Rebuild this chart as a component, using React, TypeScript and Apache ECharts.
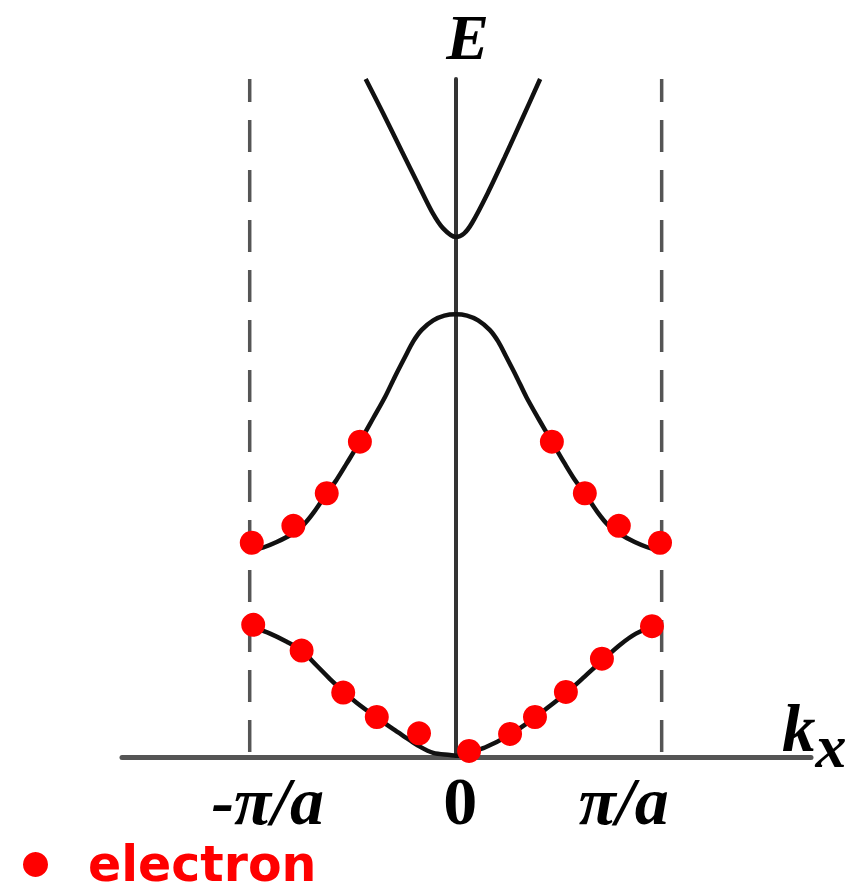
import React, { useEffect, useRef } from "react";
import * as echarts from "echarts";

// Wave vector k in units of π/a, energy E in arbitrary units.
const kTicks = [-1, 0, 1];
const kTickLabels = ["-π/a", "0", "π/a"];
const zoneEdges = [-1, 1];

// Upper (conduction-like) band
const band3: [number, number][] = [
  [-0.437, 10.0], [-0.353, 9.5], [-0.261, 8.93], [-0.178, 8.42], [-0.115, 8.04],
  [-0.062, 7.8], [0, 7.67], [0.04, 7.72], [0.08, 7.88], [0.156, 8.32],
  [0.237, 8.84], [0.318, 9.38], [0.41, 10.0],
];

// Middle band with its maximum at k = 0
const band2: [number, number][] = [
  [-1.0, 3.03], [-0.934, 3.09], [-0.869, 3.17], [-0.788, 3.3], [-0.74, 3.42],
  [-0.691, 3.6], [-0.626, 3.89], [-0.578, 4.09], [-0.529, 4.33], [-0.465, 4.65],
  [-0.4, 5.0], [-0.343, 5.31], [-0.295, 5.61], [-0.246, 5.9], [-0.206, 6.13],
  [-0.165, 6.3], [-0.109, 6.44], [-0.055, 6.51], [0, 6.53],
  [0.055, 6.51], [0.109, 6.44], [0.165, 6.3], [0.206, 6.13], [0.246, 5.9],
  [0.295, 5.61], [0.343, 5.31], [0.4, 5.0], [0.467, 4.65], [0.529, 4.33],
  [0.578, 4.09], [0.627, 3.89], [0.691, 3.6], [0.74, 3.42], [0.792, 3.3],
  [0.869, 3.17], [0.934, 3.09], [1.0, 3.03],
];

// Lowest band with its minimum at k = 0
const band1: [number, number][] = [
  [-0.995, 1.93], [-0.901, 1.82], [-0.82, 1.7], [-0.748, 1.57], [-0.675, 1.35],
  [-0.61, 1.15], [-0.546, 0.97], [-0.481, 0.8], [-0.383, 0.58], [-0.303, 0.41],
  [-0.238, 0.28], [-0.178, 0.16], [-0.109, 0.06], [-0.028, 0.03], [0, 0.02],
  [0.02, 0.02], [0.065, 0.07], [0.142, 0.14], [0.264, 0.33], [0.385, 0.58],
  [0.46, 0.76], [0.535, 0.94], [0.62, 1.17], [0.71, 1.42], [0.8, 1.66],
  [0.875, 1.82], [0.953, 1.92], [1.0, 1.94],
];

// Occupied electron states
const electrons: [number, number][] = [
  [-0.99, 3.16], [-0.788, 3.41], [-0.626, 3.89], [-0.465, 4.65],
  [0.467, 4.65], [0.627, 3.89], [0.792, 3.41], [0.992, 3.16],
  [-0.983, 1.95], [-0.748, 1.57], [-0.546, 0.95], [-0.383, 0.59], [-0.178, 0.35],
  [0.065, 0.09], [0.264, 0.34], [0.385, 0.59], [0.535, 0.96], [0.71, 1.45],
  [0.953, 1.93],
];

const serif = "'Liberation Serif', 'Times New Roman', serif";

export default function App() {
  const ref = useRef<HTMLDivElement>(null);

  useEffect(() => {
    if (!ref.current) return;
    const chart = echarts.init(ref.current, null, { renderer: "svg" });

    const bandLine = (name: string, data: [number, number][]) => ({
      name,
      type: "line",
      data,
      smooth: 0.3,
      symbol: "none",
      clip: true,
      z: 3,
      lineStyle: { color: "#111", width: 4.5 },
    });

    const edgeLine = (k: number) => ({
      name: "edge" + k,
      type: "line",
      data: [[k, 10], [k, 0]],
      symbol: "none",
      z: 2,
      lineStyle: { color: "#555", width: 3.5, type: [32, 18], dashOffset: 9 },
    });

    chart.setOption({
      animation: false,
      backgroundColor: "#fff",
      grid: { left: 122, right: 43, top: 79, bottom: 136, containLabel: false },
      xAxis: {
        type: "value",
        min: -1.62,
        max: 1.725,
        splitLine: { show: false },
        axisTick: { show: false },
        axisLine: { show: true, onZero: false, lineStyle: { color: "#555", width: 5 } },
        axisLabel: {
          customValues: kTicks,
          margin: 10,
          formatter: (v: number) => {
            const i = kTicks.indexOf(Math.round(v));
            const style = i === 0 ? "neg" : i === 1 ? "zero" : "pos";
            return `{${style}|${kTickLabels[i]}}`;
          },
          rich: {
            neg: { fontFamily: serif, fontSize: 68, fontWeight: "bold", fontStyle: "italic", color: "#000", padding: [0, 0, 0, 36] },
            zero: { fontFamily: serif, fontSize: 68, fontWeight: "bold", color: "#000", padding: [0, 0, 0, 9] },
            pos: { fontFamily: serif, fontSize: 68, fontWeight: "bold", fontStyle: "italic", color: "#000", padding: [0, 76, 0, 0] },
          },
        },
        name: "{k|k}{x|x}",
        nameLocation: "end",
        nameGap: -29,
        nameTextStyle: {
          padding: [0, 0, 40, 0],
          rich: {
            k: { fontFamily: serif, fontSize: 67, fontWeight: "bold", fontStyle: "italic", color: "#000", padding: [0, 0, 18, 0] },
            x: { fontFamily: serif, fontSize: 62, fontWeight: "bold", fontStyle: "italic", color: "#000", padding: [18, 0, 0, 0] },
          },
        },
      },
      yAxis: {
        type: "value",
        min: 0,
        max: 10,
        splitLine: { show: false },
        axisTick: { show: false },
        axisLabel: { show: false },
        axisLine: { show: true, onZero: true, lineStyle: { color: "#333", width: 4 } },
        name: "E",
        nameLocation: "end",
        nameGap: 14,
        nameTextStyle: {
          fontFamily: serif,
          fontSize: 64,
          lineHeight: 56,
          fontWeight: "bold",
          fontStyle: "italic",
          color: "#000",
          padding: [0, 0, 0, 24],
        },
      },
      legend: {
        data: ["electron"],
        left: 18,
        top: 835,
        icon: "circle",
        itemWidth: 25,
        itemHeight: 25,
        textStyle: {
          fontFamily: "'DejaVu Sans', 'Liberation Sans', Arial, sans-serif",
          fontSize: 49,
          fontWeight: "bold",
          color: "#ff0000",
          padding: [0, 0, 0, 35],
        },
      },
      series: [
        edgeLine(zoneEdges[0]),
        edgeLine(zoneEdges[1]),
        bandLine("band1", band1),
        bandLine("band2", band2),
        bandLine("band3", band3),
        {
          name: "electron",
          type: "scatter",
          data: electrons,
          symbol: "circle",
          symbolSize: 24,
          z: 5,
          itemStyle: { color: "#ff0000", opacity: 1 },
        },
      ],
    });

    return () => chart.dispose();
  }, []);

  return (
    <div
      ref={ref}
      style={{ position: "fixed", left: 0, top: 0, width: 854, height: 893 }}
    />
  );
}
